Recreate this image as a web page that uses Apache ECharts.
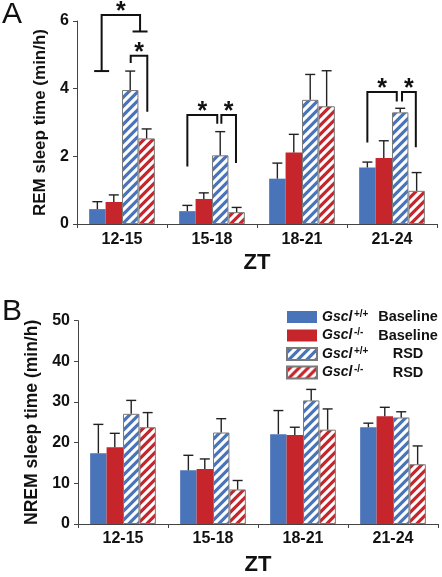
<!DOCTYPE html>
<html>
<head>
<meta charset="utf-8">
<script src="https://cdn.jsdelivr.net/npm/echarts@6/dist/echarts.min.js"></script>
<style>
html,body{margin:0;padding:0;background:#fff;}
#c{width:442px;height:577px;}
</style>
</head>
<body>
<div id="c"></div>
<script>
// ---------- data ----------
const categories = ['12-15', '15-18', '18-21', '21-24'];
const groupKeys = ['wtBase', 'koBase', 'wtRSD', 'koRSD'];
const genotypeSup = ['+/+', '-/-', '+/+', '-/-'];
const conditionLabels = ['Baseline', 'Baseline', 'RSD', 'RSD'];

// Panel A: REM sleep time (min/h), means and SEM
const remWtBase = [0.44, 0.38, 1.34, 1.67];
const remKoBase = [0.65, 0.74, 2.11, 1.95];
const remWtRSD  = [3.96, 2.03, 3.67, 3.30];
const remKoRSD  = [2.53, 0.35, 3.48, 0.98];
const remWtBaseErr = [0.22, 0.17, 0.46, 0.16];
const remKoBaseErr = [0.21, 0.18, 0.54, 0.51];
const remWtRSDErr  = [0.56, 0.70, 0.75, 0.12];
const remKoRSDErr  = [0.28, 0.14, 1.05, 0.54];

// Panel B: NREM sleep time (min/h), means and SEM
const nremWtBase = [17.4, 13.2, 22.1, 23.8];
const nremKoBase = [18.9, 13.5, 21.9, 26.5];
const nremWtRSD  = [27.1, 22.5, 30.4, 26.2];
const nremKoRSD  = [23.8, 8.5, 23.2, 14.7];
const nremWtBaseErr = [7.1, 3.7, 5.8, 1.0];
const nremKoBaseErr = [3.4, 2.5, 1.9, 2.2];
const nremWtRSDErr  = [3.3, 3.4, 2.7, 1.4];
const nremKoRSDErr  = [3.6, 2.2, 5.1, 4.5];

// Significance brackets (panel A):
// [category index, left bar position, right bar position, top value, left leg bottom, right leg bottom, has feet]
const remBrackets = [
  [0, 0.26, 2.60, 6.18, 4.52, 5.69, 1],
  [0, 2.03, 3.04, 4.97, 4.76, 3.32, 0],
  [1, 0.00, 1.82, 3.22, 1.70, 2.96, 0],
  [1, 2.07, 2.96, 3.22, 2.96, 1.80, 0],
  [3, 0.00, 1.79, 3.90, 2.41, 3.62, 0],
  [3, 2.11, 2.95, 3.90, 3.62, 2.27, 0]
];

const yTicksA = { min: 0, max: 6, interval: 2 };
const yTicksB = { min: 0, max: 50, interval: 10 };

// ---------- styling ----------
const BLUE = '#4a74b9';
const RED = '#c5252b';
const GAP = 0.27;
const FONT = '"Liberation Sans", Arial, sans-serif';

function stripes(color) {
  const s = 9;
  const c = document.createElement('canvas');
  c.width = s; c.height = s;
  const x = c.getContext('2d');
  x.fillStyle = color; x.fillRect(0, 0, s, s);
  x.strokeStyle = '#ffffff'; x.lineWidth = 3.2;
  x.beginPath();
  x.moveTo(-1, s + 1); x.lineTo(s + 1, -1);
  x.moveTo(-3, 3); x.lineTo(3, -3);
  x.moveTo(s - 3, s + 3); x.lineTo(s + 3, s - 3);
  x.stroke();
  return c;
}

const groupStyles = [
  { color: BLUE, borderWidth: 0 },
  { color: RED, borderWidth: 0 },
  { color: { image: stripes(BLUE), repeat: 'repeat' }, borderColor: '#7a7a7a', borderWidth: 1 },
  { color: { image: stripes(RED), repeat: 'repeat' }, borderColor: '#7a7a7a', borderWidth: 1 }
];

const remVals = [remWtBase, remKoBase, remWtRSD, remKoRSD];
const remErrs = [remWtBaseErr, remKoBaseErr, remWtRSDErr, remKoRSDErr];
const nremVals = [nremWtBase, nremKoBase, nremWtRSD, nremKoRSD];
const nremErrs = [nremWtBaseErr, nremKoBaseErr, nremWtRSDErr, nremKoRSDErr];

function errData(vals, errs) {
  const out = [];
  vals.forEach((arr, g) => arr.forEach((v, i) => out.push([i, g, v, v + errs[g][i]])));
  return out;
}

function barX(api, cat, pos) {
  const c = api.coord([cat, 0]);
  const band = api.size([1, 0])[0];
  const bw = band * (1 - GAP) / 4;
  return c[0] + (pos - 1.5) * bw;
}

function renderErr(params, api) {
  const cat = api.value(0), g = api.value(1), v = api.value(2), top = api.value(3);
  const x = barX(api, cat, g);
  const y0 = api.coord([cat, v])[1];
  const y1 = api.coord([cat, top])[1];
  const cw = 5;
  return {
    type: 'group',
    children: [
      { type: 'line', shape: { x1: x, y1: y0, x2: x, y2: y1 }, style: { stroke: '#222', lineWidth: 1.4 } },
      { type: 'line', shape: { x1: x - cw, y1: y1, x2: x + cw, y2: y1 }, style: { stroke: '#222', lineWidth: 1.4 } }
    ]
  };
}

function renderBracket(params, api) {
  const cat = api.value(0);
  const x1 = barX(api, cat, api.value(1));
  const x2 = barX(api, cat, api.value(2));
  const yT = api.coord([cat, api.value(3)])[1];
  const yL = api.coord([cat, api.value(4)])[1];
  const yR = api.coord([cat, api.value(5)])[1];
  const feet = api.value(6);
  const st = { stroke: '#111', lineWidth: 2, fill: null, lineJoin: 'miter', lineCap: 'butt' };
  const children = [
    { type: 'polyline', shape: { points: [[x1, yL], [x1, yT], [x2, yT], [x2, yR]] }, style: st },
    { type: 'text', style: { text: '*', x: (x1 + x2) / 2, y: yT - 3, align: 'center', verticalAlign: 'middle', font: 'bold 25px ' + FONT, fill: '#111' } }
  ];
  if (feet) {
    children.push({ type: 'line', shape: { x1: x1 - 7.5, y1: yL, x2: x1 + 7.5, y2: yL }, style: st });
    children.push({ type: 'line', shape: { x1: x2 - 7.5, y1: yR, x2: x2 + 7.5, y2: yR }, style: st });
  }
  return { type: 'group', children };
}

const axisLabelStyle = { color: '#111', fontWeight: 'bold', fontSize: 16, fontFamily: FONT };

function xAxisCfg(gridIndex, margin, nameGap) {
  return {
    type: 'category', gridIndex, data: categories,
    axisLine: { lineStyle: { color: '#444', width: 1 } },
    axisTick: { show: true, length: 4, lineStyle: { color: '#444' } },
    axisLabel: Object.assign({ margin }, axisLabelStyle),
    name: 'ZT', nameLocation: 'middle', nameGap,
    nameTextStyle: { color: '#111', fontWeight: 'bold', fontSize: 22, fontFamily: FONT },
    splitLine: { show: false }
  };
}
function yAxisCfg(gridIndex, ticks, name, nameSize) {
  return {
    type: 'value', gridIndex, min: ticks.min, max: ticks.max, interval: ticks.interval,
    axisLine: { show: true, lineStyle: { color: '#444', width: 1 } },
    axisTick: { show: true, length: 4, lineStyle: { color: '#444' } },
    axisLabel: Object.assign({ margin: 8 }, axisLabelStyle),
    splitLine: { show: false },
    name, nameLocation: 'middle', nameGap: 23,
    nameTextStyle: { color: '#111', fontWeight: 'bold', fontSize: nameSize, fontFamily: FONT }
  };
}

const series = [];
[remVals, nremVals].forEach((vals, p) => {
  vals.forEach((arr, g) => {
    series.push({
      type: 'bar', name: groupKeys[g], xAxisIndex: p, yAxisIndex: p,
      data: arr, barGap: '0%', barCategoryGap: (GAP * 100) + '%',
      itemStyle: groupStyles[g], emphasis: { disabled: true }, animation: false
    });
  });
});
series.push({
  type: 'custom', xAxisIndex: 0, yAxisIndex: 0, z: 5, renderItem: renderErr,
  data: errData(remVals, remErrs), encode: { x: 0, y: 3 }, animation: false, silent: true
});
series.push({
  type: 'custom', xAxisIndex: 1, yAxisIndex: 1, z: 5, renderItem: renderErr,
  data: errData(nremVals, nremErrs), encode: { x: 0, y: 3 }, animation: false, silent: true
});
series.push({
  type: 'custom', xAxisIndex: 0, yAxisIndex: 0, z: 6, renderItem: renderBracket, clip: false,
  data: remBrackets, encode: { x: 0, y: 3 }, animation: false, silent: true
});

const chart = echarts.init(document.getElementById('c'), null, { renderer: 'canvas' });
chart.setOption({
  animation: false,
  backgroundColor: '#fff',
  textStyle: { fontFamily: FONT },
  grid: [
    { left: 77, right: 5, top: 21, bottom: 353 },
    { left: 78, right: 4, top: 320.7, bottom: 51.7 }
  ],
  xAxis: [xAxisCfg(0, 8, 28), xAxisCfg(1, 7, 30)],
  yAxis: [yAxisCfg(0, yTicksA, 'REM sleep time (min/h)', 17), yAxisCfg(1, yTicksB, 'NREM sleep time (min/h)', 17.5)],
  legend: {
    orient: 'vertical', left: 281, top: 304, itemWidth: 30, itemHeight: 12, itemGap: 3,
    selectedMode: false, icon: 'rect',
    data: groupKeys,
    formatter: name => {
      const i = groupKeys.indexOf(name);
      return '{g|Gscl}{s|' + genotypeSup[i] + '}{t|' + conditionLabels[i] + '}';
    },
    textStyle: {
      color: '#111',
      rich: {
        g: { fontStyle: 'italic', fontWeight: 'bold', fontSize: 14, fontFamily: FONT, width: 32, lineHeight: 16, color: '#111' },
        s: { fontWeight: 'bold', fontSize: 10, fontFamily: FONT, width: 23, lineHeight: 16, verticalAlign: 'top', color: '#111' },
        t: { fontWeight: 'bold', fontSize: 14.5, fontFamily: FONT, width: 62, align: 'center', lineHeight: 16, color: '#111' }
      }
    }
  },
  graphic: [
    { type: 'text', left: 2, top: 0, style: { text: 'A', font: '30px ' + FONT, fill: '#111' } },
    { type: 'text', left: 2, top: 297, style: { text: 'B', font: '30px ' + FONT, fill: '#111' } }
  ],
  series
});
</script>
</body>
</html>
